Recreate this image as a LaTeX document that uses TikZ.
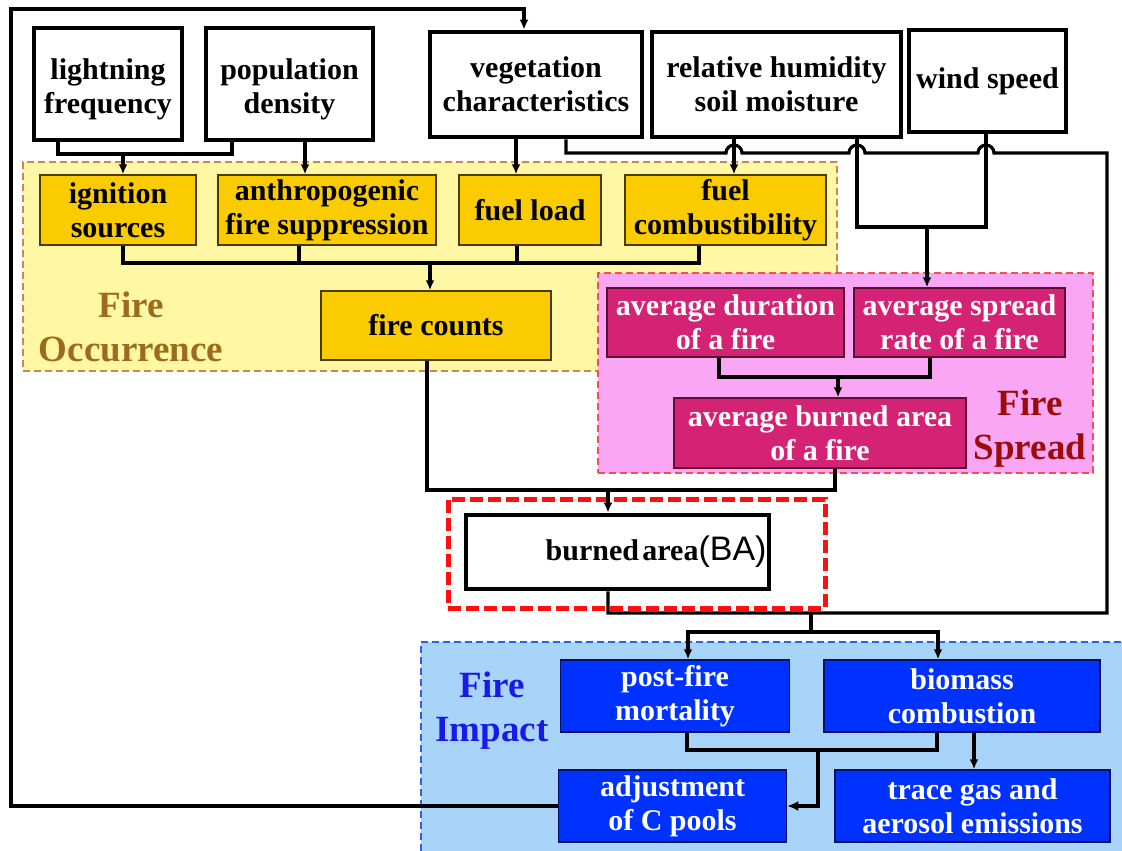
\documentclass[tikz,border=0pt]{standalone}
\usepackage{fontspec}
\setmainfont{Liberation Serif}
\newfontfamily\basans{Liberation Sans}
\usetikzlibrary{arrows.meta,calc}
\definecolor{yfill}{HTML}{FFF7A3}
\definecolor{yedge}{HTML}{C8865A}
\definecolor{gold}{HTML}{FACC00}
\definecolor{goldedge}{HTML}{4A3C00}
\definecolor{pfill}{HTML}{F9A6F4}
\definecolor{pedge}{HTML}{F05050}
\definecolor{magbox}{HTML}{D42274}
\definecolor{magedge}{HTML}{5A1030}
\definecolor{spreadtxt}{HTML}{9C0A0A}
\definecolor{bfill}{HTML}{A8D4FA}
\definecolor{bedge}{HTML}{3060E0}
\definecolor{bluebox}{HTML}{0032FF}
\definecolor{blueedge}{HTML}{001060}
\definecolor{impacttxt}{HTML}{1A1AE6}
\definecolor{occtxt}{HTML}{9C6B1C}
\definecolor{reddash}{HTML}{FF1010}
\begin{document}
\begin{tikzpicture}[x=1pt,y=-1pt,
  txt/.style={font=\fontsize{30}{34}\selectfont\bfseries},
  basebox/.style={rectangle, align=center, inner sep=0pt, txt},
  topbox/.style={basebox, draw=black, line width=4.8pt, fill=white},
  goldbox/.style={basebox, draw=goldedge, line width=1.5pt, fill=gold},
  magbx/.style={basebox, draw=magedge, line width=1.5pt, fill=magbox, text=white},
  bluebx/.style={basebox, draw=blueedge, line width=1.5pt, fill=bluebox, text=white},
  grouplabel/.style={align=center, inner sep=0pt, font=\fontsize{37}{44}\selectfont\bfseries},
  conn/.style={draw=black, line width=3.2pt},
  arr/.style={conn, -{Latex[length=10pt,width=9pt]}},
  thickconn/.style={draw=black, line width=4.4pt},
  thickarr/.style={thickconn, -{Latex[length=11pt,width=10pt]}}
]
\clip (0,0) rectangle (1122,851);
\fill[white] (0,0) rectangle (1122,851);

% regions
\node[draw=yedge, fill=yfill, line width=1.5pt, dash pattern=on 7pt off 4pt,
  minimum width=814pt, minimum height=209pt, inner sep=0pt] (occreg) at (430,266.5) {};
\node[draw=pedge, fill=pfill, line width=1.5pt, dash pattern=on 7pt off 4pt,
  minimum width=495pt, minimum height=200pt, inner sep=0pt] (sprreg) at (845.5,373) {};
\node[draw=bedge, fill=bfill, line width=1.5pt, dash pattern=on 7pt off 4pt,
  minimum width=714pt, minimum height=218pt, inner sep=0pt] (impreg) at (778,751) {};
\node[draw=reddash, line width=5pt, dash pattern=on 13pt off 5pt,
  minimum width=377pt, minimum height=109pt, inner sep=0pt] (bareg) at (636.5,553.5) {};

% group labels
\node[grouplabel, text=occtxt] (occlab) at (131,327) {Fire\\Occurrence};
\node[grouplabel, text=spreadtxt] (sprlab) at (1030,429) {Fire\\Spread};
\node[grouplabel, text=impacttxt] (implab) at (492,711) {Fire\\Impact};

% top boxes
\node[topbox, minimum width=148pt, minimum height=112pt, text height=66pt] (lf) at (108,84) {lightning\\frequency};
\node[topbox, minimum width=167pt, minimum height=112pt, text height=66pt] (pd) at (289.5,84) {population\\density};
\node[topbox, minimum width=212pt, minimum height=105pt] (vc) at (536,84.5) {vegetation\\characteristics};
\node[topbox, minimum width=249pt, minimum height=105pt] (rh) at (776.5,84.5) {relative humidity\\soil moisture};
\node[topbox, minimum width=157pt, minimum height=102pt] (ws) at (987.5,81) {wind speed};

% fire occurrence boxes
\node[goldbox, minimum width=156pt, minimum height=70pt] (is) at (118,210) {ignition\\sources};
\node[goldbox, minimum width=218pt, minimum height=70pt] (afs) at (327,210) {anthropogenic\\fire suppression};
\node[goldbox, minimum width=142pt, minimum height=70pt] (fl) at (530,210) {fuel load};
\node[goldbox, minimum width=201pt, minimum height=70pt] (fc) at (725.5,210) {fuel\\combustibility};
\node[goldbox, minimum width=230pt, minimum height=69pt] (fcn) at (436,325.5) {fire counts};

% fire spread boxes
\node[magbx, minimum width=237pt, minimum height=69pt] (ad) at (725.5,322.5) {average duration\\of a fire};
\node[magbx, minimum width=211pt, minimum height=69pt] (asr) at (959.5,322.5) {average spread\\rate of a fire};
\node[magbx, minimum width=292pt, minimum height=70pt] (aba) at (820,433) {average burned area\\of a fire};

% burned area
\node[rectangle, draw=black, line width=4.8pt, fill=white, minimum width=303pt, minimum height=74pt,
  text width=298pt, align=right, inner sep=0pt] (ba) at (617.5,552)
  {{\fontsize{30}{34}\selectfont\bfseries burned area}{\basans\fontsize{34}{38}\selectfont(BA)}};

% fire impact boxes
\node[bluebx, minimum width=229pt, minimum height=72pt] (pm) at (675,696) {post-fire\\mortality};
\node[bluebx, minimum width=276pt, minimum height=72pt] (bc) at (962,696) {biomass\\combustion};
\node[bluebx, minimum width=228pt, minimum height=72pt] (acp) at (672.5,806) {adjustment\\of C pools};
\node[bluebx, minimum width=275pt, minimum height=72pt] (tga) at (972.5,806) {trace gas and\\aerosol emissions};

% junction coordinates
\coordinate (m1) at (123,154);
\coordinate (m2) at (430,263);
\coordinate (m3) at (927,227);
\coordinate (m4) at (608,490);
\coordinate (m5) at (838,377);
\coordinate (m6) at (811,613);
\coordinate (m8) at (818,750);
\coordinate (o1) at (11,9);
\coordinate (hA) at (726,153);
\coordinate (hB) at (849,153);
\coordinate (hC) at (978,153);
\coordinate (hR) at (1107,153);

% lightning + population -> ignition
\draw[conn] ([xshift=-50pt]lf.south) |- (m1) -| ([xshift=-57.5pt]pd.south);
\draw[arr] (m1) -- (m1 |- is.north);
\draw[arr] ([xshift=15.5pt]pd.south) -- ([xshift=15.5pt]pd.south |- afs.north);

% vegetation
\draw[arr] ([xshift=-20pt]vc.south) -- ([xshift=-20pt]vc.south |- fl.north);
\draw[conn] ([xshift=30pt]vc.south) |- (hA)
  arc[start angle=180,end angle=360,radius=8] -- (hB)
  arc[start angle=180,end angle=360,radius=8] -- (hC)
  arc[start angle=180,end angle=360,radius=8] -- (hR)
  |- (m6) -- ([xshift=-9.5pt]ba.south |- m6) -- ([xshift=-9.5pt]ba.south);

% humidity / wind
\draw[arr] ([xshift=-42.5pt]rh.south) -- ([xshift=-42.5pt]rh.south |- fc.north);
\draw[conn] ([xshift=80.5pt]rh.south) |- (m3) -| ([xshift=-1.5pt]ws.south);
\draw[arr] (m3) -- (m3 |- asr.north);

% occurrence merge
\draw[conn] ([xshift=5pt]is.south) |- ([xshift=-26.5pt]fc.south |- m2) -- ([xshift=-26.5pt]fc.south);
\draw[conn] ([xshift=-28pt]afs.south) -- ([xshift=-28pt]afs.south |- m2);
\draw[conn] ([xshift=-13pt]fl.south) -- ([xshift=-13pt]fl.south |- m2);
\draw[arr] (m2) -- (m2 |- fcn.north);

% spread merge
\draw[conn] ([xshift=-6.5pt]ad.south) |- ([xshift=-29.5pt]asr.south |- m5) -- ([xshift=-29.5pt]asr.south);
\draw[arr] (m5) -- (m5 |- aba.north);

% to burned area
\draw[conn] ([xshift=-9pt]fcn.south) |- ([xshift=15pt]aba.south |- m4) -- ([xshift=15pt]aba.south);
\draw[arr] (m4) -- (m4 |- ba.north);

% burned area -> impacts
\draw[conn] (m6) -- ++(0,19) coordinate (m7);
\draw[arr] (m7) -| ([xshift=13pt]pm.north);
\draw[arr] (m7) -| ([xshift=-24pt]bc.north);

% impact merge
\draw[thickconn] ([xshift=12pt]pm.south) |- ([xshift=-25pt]bc.south |- m8) -- ([xshift=-25pt]bc.south);
\draw[thickarr] (m8) |- (acp.east);
\draw[arr] ([xshift=12pt]bc.south) -- ([xshift=12pt]bc.south |- tga.north);

% feedback loop
\draw[conn, line width=3.8pt, -{Latex[length=10pt,width=9pt]}] (acp.west) -| (o1) -| ([xshift=-12pt]vc.north);
\end{tikzpicture}
\end{document}
